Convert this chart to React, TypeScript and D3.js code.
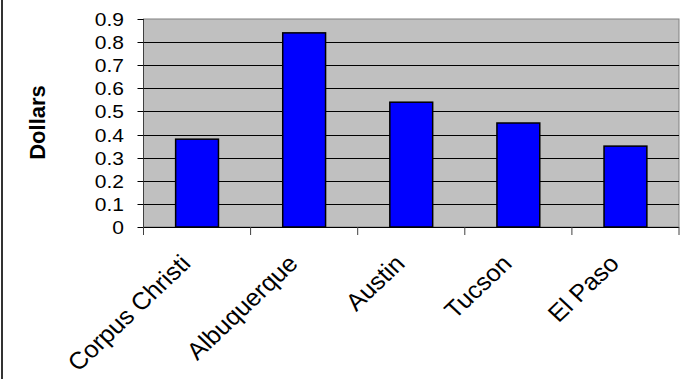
import * as React from "react";
import * as d3 from "d3";

// chart data
const cities = ["Corpus Christi", "Albuquerque", "Austin", "Tucson", "El Paso"];
const dollars = [0.38, 0.84, 0.54, 0.45, 0.35];
const yTicks = [0, 0.1, 0.2, 0.3, 0.4, 0.5, 0.6, 0.7, 0.8, 0.9];

const W = 689;
const H = 379;
const plot = { left: 143.5, right: 679, top: 19, bottom: 227 };
const FONT = "Arial, 'Liberation Sans', sans-serif";

export default function App() {
  const x = d3
    .scaleBand<string>()
    .domain(cities)
    .range([plot.left, plot.right])
    .paddingInner(0.6)
    .paddingOuter(0.3);
  const y = d3.scaleLinear().domain([0, 0.9]).range([plot.bottom, plot.top]);
  const step = x.step();
  const start = plot.left;

  return (
    <svg
      width={W}
      height={H}
      style={{ position: "absolute", left: 0, top: 0, background: "#fff" }}
      fontFamily={FONT}
    >
      {/* outer frame (only left edge visible) */}
      <line x1={2} y1={0} x2={2} y2={H} stroke="#333" strokeWidth={2} />

      {/* plot area */}
      <rect
        x={plot.left}
        y={plot.top}
        width={plot.right - plot.left}
        height={plot.bottom - plot.top}
        fill="#C0C0C0"
        stroke="#808080"
        strokeWidth={1}
      />

      {/* gridlines */}
      {yTicks.slice(1, -1).map((t) => (
        <line
          key={t}
          x1={plot.left}
          x2={plot.right}
          y1={Math.round(y(t)) + 0.5}
          y2={Math.round(y(t)) + 0.5}
          stroke="#000"
          strokeWidth={1}
        />
      ))}

      {/* bars */}
      {cities.map((c, i) => (
        <rect
          key={c}
          x={x(c)}
          y={y(dollars[i])}
          width={x.bandwidth()}
          height={plot.bottom - y(dollars[i])}
          fill="#0000FF"
          stroke="#000"
          strokeWidth={1.5}
        />
      ))}

      {/* y axis */}
      <line x1={plot.left} x2={plot.left} y1={plot.top} y2={plot.bottom + 8} stroke="#404040" strokeWidth={1} />
      {yTicks.map((t) => (
        <g key={t} transform={`translate(0,${Math.round(y(t)) + 0.5})`}>
          <line x1={plot.left - 6} x2={plot.left} stroke="#000" strokeWidth={1} />
          <text
            transform={`translate(124,0) scale(1.2,1)`}
            textAnchor="end"
            dy="0.36em"
            fontSize={17.5}
            fill="#000"
          >
            {d3.format("")(t)}
          </text>
        </g>
      ))}

      {/* x axis */}
      <line x1={plot.left} x2={plot.right} y1={plot.bottom + 0.5} y2={plot.bottom + 0.5} stroke="#000" strokeWidth={1} />
      {d3.range(cities.length + 1).map((i) => (
        <line
          key={i}
          x1={start + i * step}
          x2={start + i * step}
          y1={plot.bottom}
          y2={plot.bottom + 8}
          stroke="#404040"
          strokeWidth={1}
        />
      ))}
      {cities.map((c) => (
        <text
          key={c}
          transform={`translate(${(x(c) ?? 0) + x.bandwidth() / 2 - 5},265) scale(1.06,1) rotate(-45)`}
          textAnchor="end"
          fontSize={24}
          fill="#000"
        >
          {c}
        </text>
      ))}

      {/* y axis title */}
      <text
        transform="translate(45,122.5) rotate(-90)"
        textAnchor="middle"
        fontSize={22}
        fontWeight="bold"
        fill="#000"
      >
        Dollars
      </text>
    </svg>
  );
}
